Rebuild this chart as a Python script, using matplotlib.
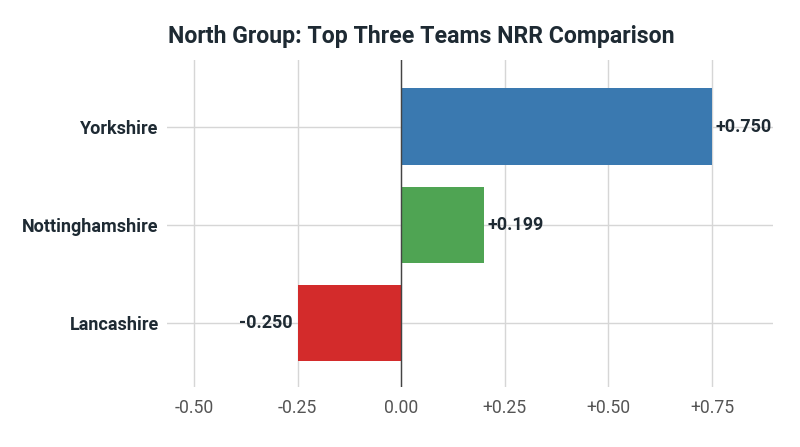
import matplotlib
matplotlib.use("Agg")
import matplotlib.pyplot as plt

teams = ["Lancashire", "Nottinghamshire", "Yorkshire"]
nrr = [-0.250, 0.199, 0.750]
colors = ["#d32b2b", "#4fa453", "#3a79b0"]
xticks = [-0.50, -0.25, 0.00, 0.25, 0.50, 0.75]
xtick_labels = ["-0.50", "-0.25", "0.00", "+0.25", "+0.50", "+0.75"]

plt.rcParams['font.family'] = ['Roboto', 'DejaVu Sans']

fig = plt.figure(figsize=(8, 4.47), dpi=100)
ax = fig.add_axes([167/800, 1 - 387/447, (773-167)/800, (387-60)/447])

ypos = list(range(len(teams)))
ax.barh(ypos, nrr, height=0.78, color=colors, zorder=3)
ax.axvline(0, color="#444444", linewidth=1.0, zorder=4)

for y, v in zip(ypos, nrr):
    label = f"{v:+.3f}"
    if v >= 0:
        ax.text(v + 0.009, y, label, ha="left", va="center", fontsize=13,
                fontweight="bold", color="#1e2a33", zorder=5)
    else:
        ax.text(v - 0.011, y, label, ha="right", va="center", fontsize=13,
                fontweight="bold", color="#1e2a33", zorder=5)

ax.set_xlim(-0.565, 0.897)
ax.set_ylim(-0.65, 2.68)
ax.set_xticks(xticks)
ax.set_xticklabels(xtick_labels, fontsize=12.7, color="#555555")
ax.set_yticks(ypos)
ax.set_yticklabels(teams, fontsize=13, fontweight="bold", color="#1e2a33")
ax.tick_params(axis="x", length=0, pad=8.5)
ax.tick_params(axis="y", length=0, pad=6)
ax.grid(True, color="#d6d6d6", linewidth=1.0, zorder=0)
for s in ax.spines.values():
    s.set_visible(False)

fig.text(421.5/800, 1 - 43/447, "North Group: Top Three Teams NRR Comparison",
         ha="center", va="baseline", fontsize=16.7, fontweight="bold", color="#1e2a33")

fig.savefig("out.png", dpi=100)
